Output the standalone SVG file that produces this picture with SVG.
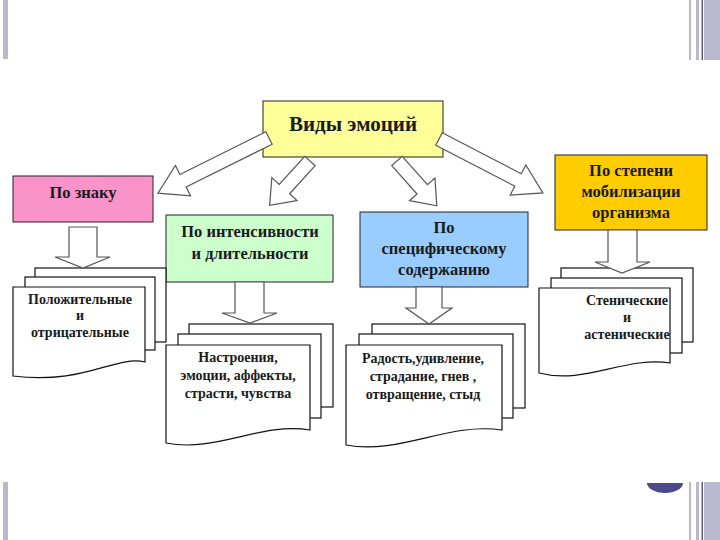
<svg xmlns="http://www.w3.org/2000/svg" width="720" height="540" viewBox="0 0 720 540">
<defs>
<style>
.deco{fill:#bab8cf}
.decoline{fill:#5b5a8c}
.box{stroke:#222;stroke-width:1}
.doc{fill:#fff;stroke:#111;stroke-width:1.2}
.arr{fill:#fff;stroke:#555;stroke-width:1.2}
.t{font-family:"Liberation Serif","DejaVu Serif",serif;font-weight:bold;fill:#1a1a1a;text-anchor:middle}
.t1{font-size:21px}
.t2{font-size:16.5px}
.t3{font-size:14px}
</style>
</defs>
<rect width="720" height="540" fill="#fff"/>
<g id="decoration">
<rect class="deco" x="3" y="0" width="5" height="59"/>
<rect class="deco" x="689" y="0" width="2" height="60"/>
<rect class="deco" x="696" y="0" width="3" height="60"/>
<rect class="decoline" x="701.5" y="0" width="1.5" height="60"/>
<rect class="deco" x="704" y="0" width="16" height="60"/>
<rect class="deco" x="3" y="482" width="5" height="58"/>
<rect class="deco" x="689" y="482" width="2" height="58"/>
<rect class="deco" x="696" y="482" width="3" height="58"/>
<rect class="decoline" x="701.5" y="482" width="1.5" height="58"/>
<rect class="deco" x="704" y="482" width="16" height="58"/>
<path d="M647,483 A18,10 0 0 0 683,483 Z" fill="#4b4a8e"/>
</g>
<g id="node-title">
<rect class="box" x="263" y="101" width="180" height="56" fill="#ffff99"/>
<text class="t t1" x="353" y="131">Виды эмоций</text>
</g>
<g id="node-sign">
<rect class="box" x="13" y="176" width="140" height="46" fill="#f993c9"/>
<text class="t t2" x="83" y="198">По знаку</text>
</g>
<g id="node-intensity">
<rect class="box" x="166" y="215" width="167" height="67" fill="#ccffcc"/>
<text class="t t2" x="250" y="237">По интенсивности</text>
<text class="t t2" x="250" y="259">и длительности</text>
</g>
<g id="node-content">
<rect class="box" x="360" y="212" width="168" height="75" fill="#99ccff"/>
<text class="t t2" x="444" y="233">По</text>
<text class="t t2" x="444" y="254">специфическому</text>
<text class="t t2" x="444" y="275">содержанию</text>
</g>
<g id="node-mobilization">
<rect class="box" x="555" y="155" width="152" height="75" fill="#ffcc00"/>
<text class="t t2" x="631" y="176">По степени</text>
<text class="t t2" x="631" y="197">мобилизации</text>
<text class="t t2" x="631" y="218">организма</text>
</g>
<g id="doc-sign">
<rect class="doc" x="35" y="268" width="131" height="74"/>
<rect class="doc" x="25" y="277" width="130" height="73"/>
<path class="doc" d="M13,287 H145 V362 C115,355 85,385 13,376 Z"/>
<text class="t t3" x="80" y="304">Положительные</text>
<text class="t t3" x="80" y="320">и</text>
<text class="t t3" x="80" y="337">отрицательные</text>
</g>
<g id="doc-intensity">
<rect class="doc" x="189" y="324" width="144" height="83"/>
<rect class="doc" x="178" y="334" width="143" height="84"/>
<path class="doc" d="M166,345 H310 V430 C260,422 216,453 166,443 Z"/>
<text class="t t3" x="238" y="362">Настроения,</text>
<text class="t t3" x="238" y="380">эмоции, аффекты,</text>
<text class="t t3" x="238" y="398">страсти, чувства</text>
</g>
<g id="doc-content">
<rect class="doc" x="372" y="324" width="153" height="84"/>
<rect class="doc" x="359" y="334" width="154" height="84"/>
<path class="doc" d="M346,345 H502 V430 C448,422 400,455 346,445 Z"/>
<text class="t t3" x="423" y="363">Радость,удивление,</text>
<text class="t t3" x="423" y="381">страдание, гнев ,</text>
<text class="t t3" x="423" y="399">отвращение, стыд</text>
</g>
<g id="doc-mobilization">
<rect class="doc" x="561" y="268" width="132" height="74"/>
<rect class="doc" x="551" y="278" width="131" height="75"/>
<path class="doc" d="M539,288 H670 V363 C625,356 585,385 539,373 Z"/>
<text class="t t3" x="627" y="305">Стенические</text>
<text class="t t3" x="627" y="322">и</text>
<text class="t t3" x="627" y="339">астенические</text>
</g>
<g id="connectors">
<polygon class="arr" transform="translate(269,138) rotate(153.6)" points="0,-7 96,-7 96,-17 124,0 96,17 96,7 0,7"/>
<polygon class="arr" transform="translate(310,161) rotate(132.3)" points="0,-7 38,-7 38,-17 60,0 38,17 38,7 0,7"/>
<polygon class="arr" transform="translate(397,161) rotate(48.4)" points="0,-7 38,-7 38,-17 60,0 38,17 38,7 0,7"/>
<polygon class="arr" transform="translate(439,139) rotate(27.4)" points="0,-7 89,-7 89,-17 117,0 89,17 89,7 0,7"/>
<polygon class="arr" points="69,227 97,227 97,257 110,257 83,268 55,257 69,257"/>
<polygon class="arr" points="235,282 264,282 264,313 277,313 250,323 222,313 235,313"/>
<polygon class="arr" points="416,287 442,287 442,308 452,308 429,324 406,308 416,308"/>
<polygon class="arr" points="608,230 637,230 637,262 650,262 622,273 595,262 608,262"/>
</g>
</svg>
